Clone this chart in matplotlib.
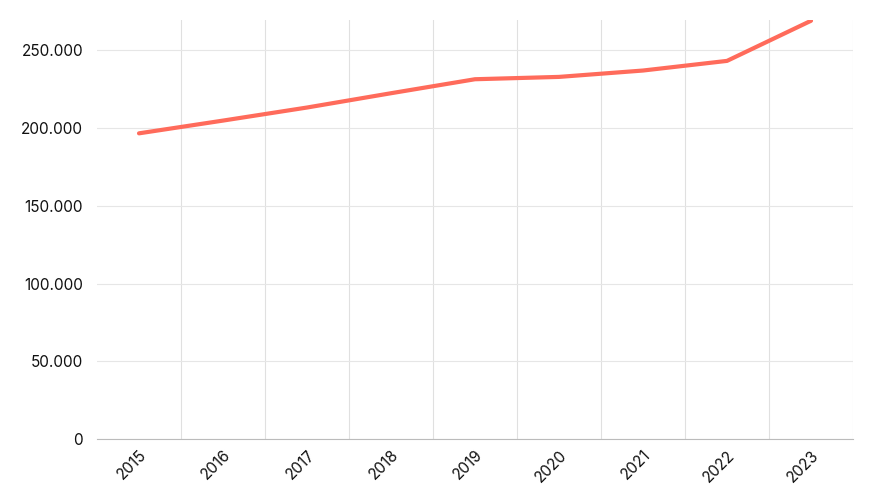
import matplotlib
matplotlib.use("Agg")
import matplotlib.pyplot as plt
from matplotlib.ticker import FuncFormatter

plt.rcParams['font.family'] = ['Inter', 'DejaVu Sans']

years = ['2015', '2016', '2017', '2018', '2019', '2020', '2021', '2022', '2023']
values = [196600, 204800, 213200, 222400, 231400, 232900, 237000, 243200, 269000]

fig = plt.figure(figsize=(8.73, 5), dpi=100)
ax = fig.add_axes([97/873, 1-439/500, (853-97)/873, (439-20)/500])
x = list(range(len(years)))
ax.plot(x, values, color='#ff6b5b', lw=3, solid_capstyle='round', zorder=3)
ax.set_xlim(-0.5, len(years)-0.5)
ax.set_ylim(0, 269500)
ax.set_yticks([0, 50000, 100000, 150000, 200000, 250000])
ax.yaxis.set_major_formatter(FuncFormatter(lambda v, p: '0' if v == 0 else f"{int(v):,}".replace(',', '.')))
ax.set_xticks(x)
ax.set_xticklabels(years, rotation=45, ha='right', rotation_mode='anchor')
ax.set_xticks([i + 0.5 for i in range(len(years))], minor=True)
ax.grid(axis='y', which='major', color='#e6e6e6', lw=0.8)
ax.grid(axis='x', which='minor', color='#e0e0e0', lw=0.8)
ax.tick_params(axis='both', which='both', length=0, labelsize=11, colors='#111111')
ax.tick_params(axis='x', pad=6)
ax.tick_params(axis='y', pad=10)
for s in ['top', 'right', 'left']:
    ax.spines[s].set_visible(False)
ax.spines['bottom'].set_color('#bbbbbb')
fig.savefig('out.png', dpi=100)
